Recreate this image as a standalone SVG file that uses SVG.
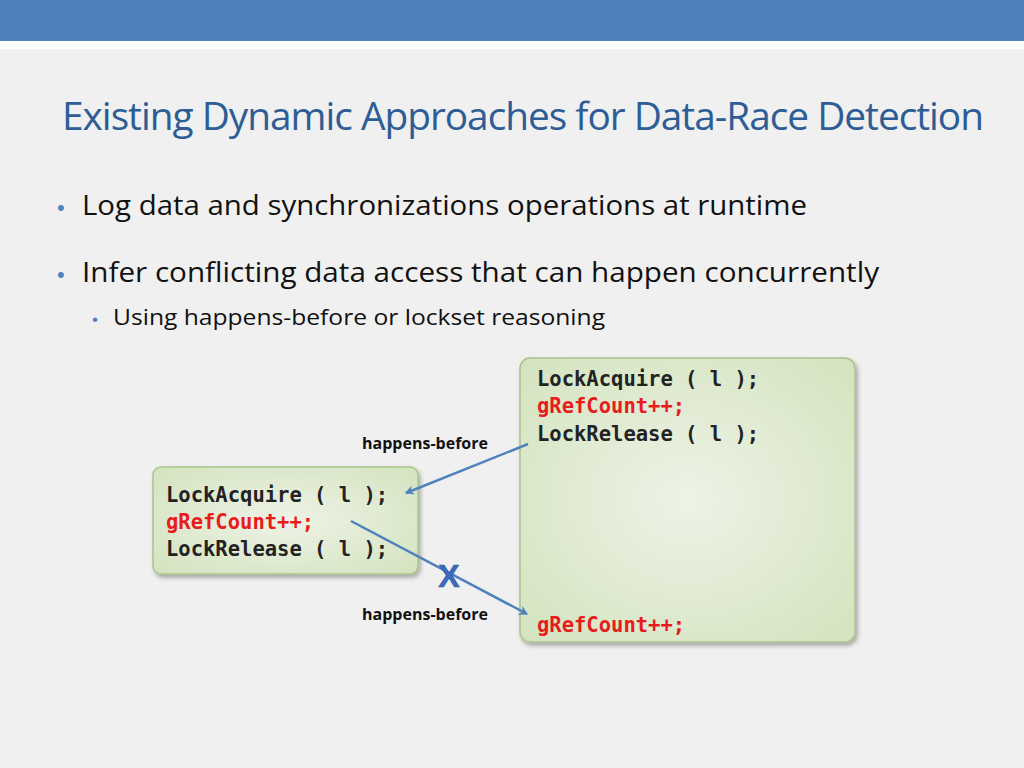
<svg xmlns="http://www.w3.org/2000/svg" width="1024" height="768" viewBox="0 0 1024 768">
<defs>
<radialGradient id="g" cx="0.5" cy="0.5" r="0.7"><stop offset="0" stop-color="#eef3e6"/><stop offset="1" stop-color="#d3e3bf"/></radialGradient>
<filter id="sh" x="-10%" y="-10%" width="130%" height="130%"><feDropShadow dx="2" dy="3" stdDeviation="2" flood-color="#000" flood-opacity="0.3"/></filter>
<marker id="ar" markerWidth="10" markerHeight="10" refX="8" refY="5" orient="auto" markerUnits="userSpaceOnUse"><path d="M0,0 L9,5 L0,10 L3,5 Z" fill="#4f81bd"/></marker>
<style>
.code{font-family:"DejaVu Sans Mono",monospace;font-size:20.5px;font-weight:bold;fill:#222}
.red{fill:#e81c1c}
.lbl{font-family:"Open Sans","Liberation Sans",sans-serif;font-size:16px;font-weight:bold;fill:#111}
.box{fill:url(#g);stroke:#a9c48a;stroke-width:1.5;filter:url(#sh)}
.body{font-family:"Open Sans","Liberation Sans",sans-serif;fill:#111}
.con{stroke:#4f81bd;stroke-width:2.5;fill:none;marker-end:url(#ar)}
</style>
</defs>
<rect width="1024" height="768" fill="#f0f0f0"/>
<rect width="1024" height="41" fill="#4f81bd"/>
<rect y="41" width="1024" height="8" fill="#fff"/>
<text x="62" y="130" font-family="Open Sans,Liberation Sans,sans-serif" font-size="38" fill="#2e5d96" textLength="921" lengthAdjust="spacingAndGlyphs" letter-spacing="-1">Existing Dynamic Approaches for Data-Race Detection</text>
<text x="57" y="215" font-family="Liberation Sans,sans-serif" font-size="22" fill="#4f81bd">•</text>
<text x="82" y="215" class="body" font-size="27" textLength="725" lengthAdjust="spacingAndGlyphs">Log data and synchronizations operations at runtime</text>
<text x="57" y="282" font-family="Liberation Sans,sans-serif" font-size="22" fill="#4f81bd">•</text>
<text x="82" y="282" class="body" font-size="27" textLength="797" lengthAdjust="spacingAndGlyphs">Infer conflicting data access that can happen concurrently</text>
<text x="92" y="325" font-family="Liberation Sans,sans-serif" font-size="17" fill="#4f81bd">•</text>
<text x="113" y="325" class="body" font-size="22" textLength="492" lengthAdjust="spacingAndGlyphs">Using happens-before or lockset reasoning</text>
<g id="right">
<rect class="box" x="520" y="358" width="335" height="284" rx="10"/>
<text class="code" x="537" y="386">LockAcquire ( l );</text>
<text class="code red" x="537" y="413">gRefCount++;</text>
<text class="code" x="537" y="441">LockRelease ( l );</text>
<text class="code red" x="537" y="632">gRefCount++;</text>
</g>
<g id="left">
<rect class="box" x="153" y="467" width="265" height="107" rx="8"/>
<text class="code" x="166" y="502">LockAcquire ( l );</text>
<text class="code red" x="166" y="529">gRefCount++;</text>
<text class="code" x="166" y="556">LockRelease ( l );</text>
</g>
<g id="connectors">
<line class="con" x1="528" y1="444" x2="406" y2="493"/>
<line class="con" x1="351" y1="521" x2="527" y2="614"/>
<text x="449" y="587" text-anchor="middle" font-family="Liberation Sans,sans-serif" font-size="32" font-weight="bold" fill="#3a6bc2" stroke="#2a4f90" stroke-width="0.5">X</text>
<text class="lbl" x="425" y="449" text-anchor="middle">happens-before</text>
<text class="lbl" x="425" y="620" text-anchor="middle">happens-before</text>
</g>
</svg>
